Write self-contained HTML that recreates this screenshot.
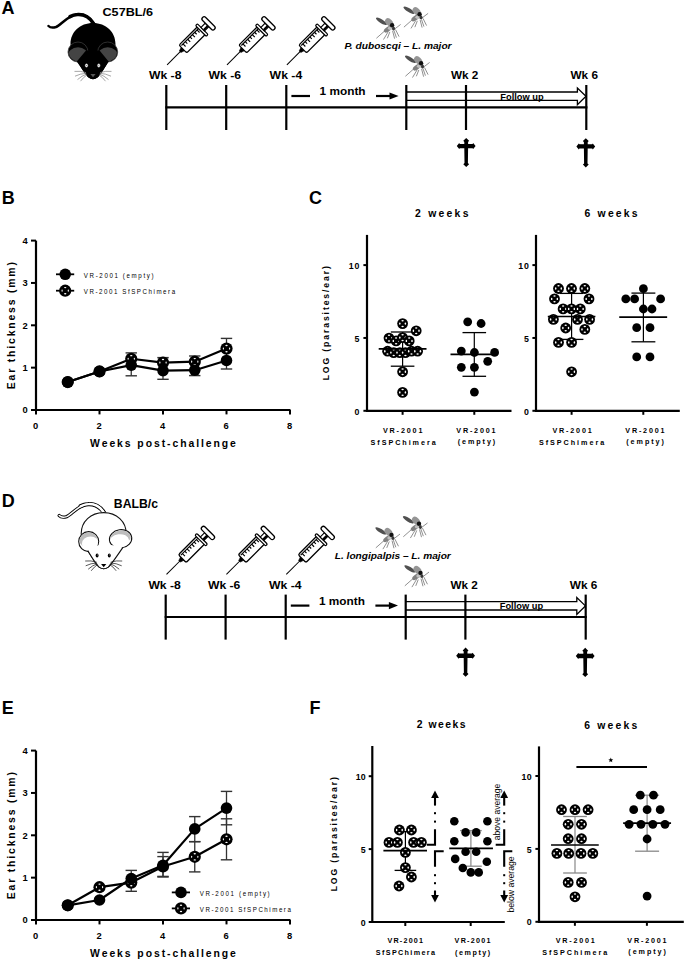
<!DOCTYPE html><html><head><meta charset="utf-8"><title>Figure</title><style>html,body{margin:0;padding:0;background:#fff;overflow:hidden}svg{display:block}text{font-family:"Liberation Sans",sans-serif}</style></head><body>
<svg width="685" height="961" viewBox="0 0 685 961">
<rect width="685" height="961" fill="#fff"/>
<defs><g id="syr" fill="#fff" stroke="#000">
<line x1="0" y1="0" x2="20" y2="0" stroke-width="1"/>
<path d="M18.5,-1.1 L22.6,-2.4 L22.6,2.4 L18.5,1.1 Z" fill="#000" stroke-width="0.6"/>
<rect x="22.3" y="-5.5" width="26.5" height="11" rx="1.8" stroke-width="1.3"/>
<line x1="23.8" y1="-3.5" x2="47.5" y2="-3.5" stroke-width="1.1"/>
<path d="M26,-3.5 L26,0.10000000000000009 M29.3,-3.5 L29.3,-0.7000000000000002 M32.6,-3.5 L32.6,0.10000000000000009 M35.9,-3.5 L35.9,-0.7000000000000002 M39.2,-3.5 L39.2,0.10000000000000009 M42.5,-3.5 L42.5,-0.7000000000000002 M45.8,-3.5 L45.8,0.10000000000000009 " stroke-width="1.15"/>
<rect x="47.8" y="-7.6" width="2.6" height="15.2" rx="1.2" stroke-width="1.2"/>
<rect x="50.4" y="-2.5" width="6" height="5" stroke-width="1.1"/>
<rect x="50.6" y="0.2" width="5.6" height="2.3" fill="#000" stroke="none"/>
<rect x="56.4" y="-8.4" width="4.4" height="16.8" rx="2.2" stroke-width="1.3"/>
</g><g id="mosq">
<g stroke="#555" stroke-width="0.65" fill="none" stroke-linecap="round">
<path d="M4.2,24.3 L12,17.4"/>
<path d="M11.2,25.5 L15.6,18.2"/>
<path d="M15,24.2 L17.2,18.6"/>
<path d="M22,24.6 L20.2,17.6"/>
<path d="M23.8,23.6 L21.6,17.2"/>
<path d="M26.4,22.6 L23.2,16.2"/>
<path d="M21.5,15.8 L27.8,11"/>
</g>
<ellipse cx="9" cy="7.6" rx="6.4" ry="1.9" transform="rotate(31 9 7.6)" fill="#505050"/>
<ellipse cx="16.6" cy="8.6" rx="4.6" ry="3.2" transform="rotate(45 16.6 8.6)" fill="#959595"/>
<ellipse cx="15.2" cy="15.6" rx="4.4" ry="2.3" transform="rotate(-35 15.2 15.6)" fill="#808080"/>
<ellipse cx="17.8" cy="14.6" rx="2.4" ry="1.8" fill="#c0c0c0"/>
<circle cx="19.6" cy="11.6" r="2.2" fill="#111"/>
<ellipse cx="21" cy="14.8" rx="1.5" ry="1.9" fill="#3a3a3a"/>
</g><path id="cross" d="M0,0 L2.9,2.9 L1.9,4 L1.9,6 L6.4,6 L7,5.2 L9.4,8.2 L7,11.2 L6.4,10.4 L1.9,10.4 L1.7,25.2 L2.9,26.4 L0,29.2 L-2.9,26.4 L-1.7,25.2 L-1.9,10.4 L-6.4,10.4 L-7,11.2 L-9.4,8.2 L-7,5.2 L-6.4,6 L-1.9,6 L-1.9,4 L-2.9,2.9 Z" fill="#000"/><g id="om"><circle r="5.4" fill="#000"/>
<g fill="#fff"><ellipse cx="0" cy="-2.8" rx="1.2" ry="0.75"/><ellipse cx="0" cy="2.8" rx="1.2" ry="0.75"/><ellipse cx="-2.8" cy="0" rx="0.75" ry="1.2"/><ellipse cx="2.8" cy="0" rx="0.75" ry="1.2"/></g></g><g id="omL"><circle r="6.1" fill="#000"/>
<g fill="#fff"><ellipse cx="0" cy="-3.1" rx="1.2" ry="0.7"/><ellipse cx="0" cy="3.1" rx="1.2" ry="0.7"/><ellipse cx="-3.1" cy="0" rx="0.6" ry="1.1"/><ellipse cx="3.1" cy="0" rx="0.6" ry="1.1"/></g></g></defs>
<text x="1.40" y="14.30" font-size="18" font-weight="bold" >A</text>
<text x="1.80" y="203.60" font-size="18" font-weight="bold" >B</text>
<text x="309.00" y="204.00" font-size="18" font-weight="bold" >C</text>
<text x="1.80" y="507.30" font-size="18" font-weight="bold" >D</text>
<text x="1.80" y="714.00" font-size="18" font-weight="bold" >E</text>
<text x="309.50" y="713.60" font-size="18" font-weight="bold" >F</text>
<g id="bmouse">
<path d="M48.5,26 Q51,28.6 56,27 C61,25 68,15 77.5,14.5 C85,14 89.5,17 93,22.5" fill="none" stroke="#000" stroke-width="2.5" stroke-linecap="round"/>
<path d="M70,16.6 C72.5,15.2 75,14.6 77.5,14.5 C85,14 89.5,17 93.5,23.5" fill="none" stroke="#000" stroke-width="3.5" stroke-linecap="round"/>
<path d="M93,23 C106,23 115.5,32 115.5,44 C115.5,52 111,58 107,64 C104,69 100.5,75 97.5,77.5 Q93,80.8 88.5,77.5 C85.5,75 82,69 79,64 C75,58 70.5,52 70.5,44 C70.5,32 80,23 93,23 Z" fill="#000"/>
<circle cx="78" cy="52" r="10" fill="#000" stroke="#3a3a3a" stroke-width="0.8"/>
<clipPath id="ec78"><circle cx="78" cy="52" r="9.3"/></clipPath>
<ellipse cx="78" cy="56.5" rx="10.5" ry="9.3" fill="#444" clip-path="url(#ec78)"/>
<circle cx="107.7" cy="52" r="10" fill="#000" stroke="#3a3a3a" stroke-width="0.8"/>
<clipPath id="ec107"><circle cx="107.7" cy="52" r="9.3"/></clipPath>
<ellipse cx="107.7" cy="56.5" rx="10.5" ry="9.3" fill="#444" clip-path="url(#ec107)"/>
<path d="M76.8,61.6 L86,50.4 L99.6,50.4 L108.6,61.4 C104,69 100.5,75 97.5,77.5 Q93,80.8 88.5,77.5 C85.5,75 82,69 76.8,61.6 Z" fill="#000"/>
<g stroke="#8a8a8a" stroke-width="0.75" fill="none"><path d="M86,72.6 Q80.25,70.7 74.5,71.4"/><path d="M100,72.6 Q105.75,70.7 111.5,71.4"/><path d="M86,73.4 Q80.5,73.50000000000001 75,76.2"/><path d="M100,73.4 Q105.5,73.50000000000001 111,76.2"/><path d="M86.5,74.2 Q82.0,75.60000000000001 77.5,79.6"/><path d="M99.5,74.2 Q104.0,75.60000000000001 108.5,79.6"/><path d="M87,75 Q83.75,76.8 80.5,81.2"/><path d="M99,75 Q102.25,76.8 105.5,81.2"/></g>
<ellipse cx="86.5" cy="65.5" rx="1.3" ry="1.75" fill="#fff" stroke="#aaa" stroke-width="0.45"/><circle cx="86.5" cy="65.6" r="0.5" fill="#666"/>
<ellipse cx="98.8" cy="65.5" rx="1.3" ry="1.75" fill="#fff" stroke="#aaa" stroke-width="0.45"/><circle cx="98.8" cy="65.6" r="0.5" fill="#666"/>
<path d="M90.4,74 L95.6,74 L93,77.2 Z" fill="#555"/>
</g>
<g transform="translate(10.7 489.6)">
<path d="M48.5,26 Q51,28.6 56,27 C61,25 68,15 77.5,14.5 C85,14 89.5,17 93,22.5" fill="none" stroke="#000" stroke-width="3.3" stroke-linecap="round"/>
<path d="M70,16.6 C72.5,15.2 75,14.6 77.5,14.5 C85,14 89.5,17 93.5,23.5" fill="none" stroke="#000" stroke-width="4.3" stroke-linecap="round"/>
<path d="M48.5,26 Q51,28.6 56,27 C61,25 68,15 77.5,14.5 C85,14 89.5,17 93,22.5" fill="none" stroke="#fff" stroke-width="1.5" stroke-linecap="round"/>
<path d="M70,16.6 C72.5,15.2 75,14.6 77.5,14.5 C85,14 89.5,17 93.5,23.5" fill="none" stroke="#fff" stroke-width="2.4" stroke-linecap="round"/>
<path d="M93,23 C106,23 115.5,32 115.5,44 C115.5,52 111,58 107,64 C104,69 100.5,75 97.5,77.5 Q93,80.8 88.5,77.5 C85.5,75 82,69 79,64 C75,58 70.5,52 70.5,44 C70.5,32 80,23 93,23 Z" fill="#fff" stroke="#111" stroke-width="1.1"/>
<circle cx="78" cy="52" r="10" fill="#fff" stroke="#111" stroke-width="1.1"/>
<clipPath id="wcL"><circle cx="78" cy="52" r="9.4"/></clipPath>
<ellipse cx="78" cy="50" rx="9.6" ry="8" fill="#bdbdbd" clip-path="url(#wcL)"/>
<ellipse cx="79.8" cy="54.2" rx="8.6" ry="7.4" fill="#fff" clip-path="url(#wcL)"/>
<g transform="rotate(-8 109.9 49.2)">
<ellipse cx="109.9" cy="49.2" rx="11.2" ry="9.1" fill="#fff" stroke="#111" stroke-width="1.1"/>
<clipPath id="wcR"><ellipse cx="109.9" cy="49.2" rx="10.6" ry="8.5"/></clipPath>
<ellipse cx="109.9" cy="47.2" rx="10.8" ry="7.4" fill="#bdbdbd" clip-path="url(#wcR)"/>
<ellipse cx="108.2" cy="51.4" rx="9.8" ry="7" fill="#fff" clip-path="url(#wcR)"/>
</g>
<path d="M77,61 Q84,55 93,55 Q102,55 112.2,57.8 C106,67 100.5,75 97.5,77.5 Q93,80.8 88.5,77.5 C85.5,75 82,69 77,61 Z" fill="#fff"/>
<path d="M77,61 C82,69 85.5,75 88.5,77.5 Q93,80.8 97.5,77.5 C100.5,75 106,67 112.2,57.8" fill="none" stroke="#111" stroke-width="1.1"/>
<g stroke="#222" stroke-width="0.75" fill="none"><path d="M86,72.6 Q80.25,70.7 74.5,71.4"/><path d="M100,72.6 Q105.75,70.7 111.5,71.4"/><path d="M86,73.4 Q80.5,73.50000000000001 75,76.2"/><path d="M100,73.4 Q105.5,73.50000000000001 111,76.2"/><path d="M86.5,74.2 Q82.0,75.60000000000001 77.5,79.6"/><path d="M99.5,74.2 Q104.0,75.60000000000001 108.5,79.6"/><path d="M87,75 Q83.75,76.8 80.5,81.2"/><path d="M99,75 Q102.25,76.8 105.5,81.2"/></g>
<ellipse cx="86.4" cy="65.9" rx="1.45" ry="2.0" fill="#000"/><ellipse cx="98.6" cy="65.9" rx="1.45" ry="2.0" fill="#000"/><circle cx="86.7" cy="65.3" r="0.45" fill="#fff"/><circle cx="98.9" cy="65.3" r="0.45" fill="#fff"/>
<path d="M90.4,74.5 L95.6,74.5 L93,77.6 Z" fill="#000"/>
</g>
<g transform="translate(0 0)">
<text x="102.50" y="16.40" font-size="11.6" font-weight="bold" textLength="50.50" lengthAdjust="spacingAndGlyphs" >C57BL/6</text>
<use href="#syr" transform="translate(167.1 64.8) rotate(-45)"/>
<use href="#syr" transform="translate(227.0 64.8) rotate(-45)"/>
<use href="#syr" transform="translate(286.9 64.8) rotate(-45)"/>
<use href="#mosq" transform="translate(372.5 13.7)"/>
<use href="#mosq" transform="translate(400 2.6)"/>
<use href="#mosq" transform="translate(401.5 51.7)"/>
<text x="344.40" y="49.40" font-size="9.8" font-weight="bold" font-style="italic" textLength="107.20" lengthAdjust="spacingAndGlyphs" >P. duboscqi – L. major</text>
<text x="149.00" y="79.30" font-size="11.2" font-weight="bold" textLength="32.40" lengthAdjust="spacingAndGlyphs" >Wk -8</text>
<text x="208.50" y="79.30" font-size="11.2" font-weight="bold" textLength="32.50" lengthAdjust="spacingAndGlyphs" >Wk -6</text>
<text x="269.60" y="79.30" font-size="11.2" font-weight="bold" textLength="32.60" lengthAdjust="spacingAndGlyphs" >Wk -4</text>
<text x="451.00" y="79.30" font-size="11.2" font-weight="bold" textLength="27.40" lengthAdjust="spacingAndGlyphs" >Wk 2</text>
<text x="570.40" y="79.30" font-size="11.2" font-weight="bold" textLength="27.60" lengthAdjust="spacingAndGlyphs" >Wk 6</text>
<path d="M406,92 L577.4,92 L577.4,88 L586,96.3 L577.4,104.8 L577.4,100.4 L406,100.4" fill="#fff" stroke="#000" stroke-width="1.3"/>
<text x="500.30" y="99.50" font-size="9.0" font-weight="bold" textLength="43.40" lengthAdjust="spacingAndGlyphs" >Follow up</text>
<line x1="165.30" y1="107.40" x2="587.40" y2="107.40" stroke="#000" stroke-width="2.2" />
<line x1="166.30" y1="85.00" x2="166.30" y2="130.00" stroke="#000" stroke-width="2.2" />
<line x1="226.20" y1="85.00" x2="226.20" y2="130.00" stroke="#000" stroke-width="2.2" />
<line x1="286.30" y1="85.00" x2="286.30" y2="130.00" stroke="#000" stroke-width="2.2" />
<line x1="406.30" y1="85.00" x2="406.30" y2="130.00" stroke="#000" stroke-width="2.2" />
<line x1="466.00" y1="85.00" x2="466.00" y2="130.00" stroke="#000" stroke-width="2.2" />
<line x1="586.30" y1="85.00" x2="586.30" y2="130.00" stroke="#000" stroke-width="2.2" />
<line x1="291.40" y1="96.00" x2="310.00" y2="96.00" stroke="#000" stroke-width="2.2" />
<text x="319.60" y="95.00" font-size="11.2" font-weight="bold" textLength="46.00" lengthAdjust="spacingAndGlyphs" >1 month</text>
<line x1="376.00" y1="96.00" x2="391.00" y2="96.00" stroke="#000" stroke-width="2.2" />
<path d="M389.5,92.4 L398.6,96 L389.5,99.6 Z" fill="#000"/>
<use href="#cross" transform="translate(466.2 137.9)"/>
<use href="#cross" transform="translate(585.8 138.2)"/>
</g>
<g transform="translate(-0.6 509.6)">
<text x="114.40" y="-1.70" font-size="12.6" font-weight="bold" textLength="44.20" lengthAdjust="spacingAndGlyphs" >BALB/c</text>
<use href="#syr" transform="translate(167.1 64.8) rotate(-45)"/>
<use href="#syr" transform="translate(227.0 64.8) rotate(-45)"/>
<use href="#syr" transform="translate(286.9 64.8) rotate(-45)"/>
<use href="#mosq" transform="translate(372.5 13.7)"/>
<use href="#mosq" transform="translate(400 2.6)"/>
<use href="#mosq" transform="translate(401.5 51.7)"/>
<text x="335.40" y="49.40" font-size="9.8" font-weight="bold" font-style="italic" textLength="116.00" lengthAdjust="spacingAndGlyphs" >L. longipalpis – L. major</text>
<text x="149.00" y="79.30" font-size="11.2" font-weight="bold" textLength="32.40" lengthAdjust="spacingAndGlyphs" >Wk -8</text>
<text x="208.50" y="79.30" font-size="11.2" font-weight="bold" textLength="32.50" lengthAdjust="spacingAndGlyphs" >Wk -6</text>
<text x="269.60" y="79.30" font-size="11.2" font-weight="bold" textLength="32.60" lengthAdjust="spacingAndGlyphs" >Wk -4</text>
<text x="451.00" y="79.30" font-size="11.2" font-weight="bold" textLength="27.40" lengthAdjust="spacingAndGlyphs" >Wk 2</text>
<text x="570.40" y="79.30" font-size="11.2" font-weight="bold" textLength="27.60" lengthAdjust="spacingAndGlyphs" >Wk 6</text>
<path d="M406,92 L577.4,92 L577.4,88 L586,96.3 L577.4,104.8 L577.4,100.4 L406,100.4" fill="#fff" stroke="#000" stroke-width="1.3"/>
<text x="500.30" y="99.50" font-size="9.0" font-weight="bold" textLength="43.40" lengthAdjust="spacingAndGlyphs" >Follow up</text>
<line x1="165.30" y1="107.40" x2="587.40" y2="107.40" stroke="#000" stroke-width="2.2" />
<line x1="166.30" y1="85.00" x2="166.30" y2="130.00" stroke="#000" stroke-width="2.2" />
<line x1="226.20" y1="85.00" x2="226.20" y2="130.00" stroke="#000" stroke-width="2.2" />
<line x1="286.30" y1="85.00" x2="286.30" y2="130.00" stroke="#000" stroke-width="2.2" />
<line x1="406.30" y1="85.00" x2="406.30" y2="130.00" stroke="#000" stroke-width="2.2" />
<line x1="466.00" y1="85.00" x2="466.00" y2="130.00" stroke="#000" stroke-width="2.2" />
<line x1="586.30" y1="85.00" x2="586.30" y2="130.00" stroke="#000" stroke-width="2.2" />
<line x1="291.40" y1="96.00" x2="310.00" y2="96.00" stroke="#000" stroke-width="2.2" />
<text x="319.60" y="95.00" font-size="11.2" font-weight="bold" textLength="46.00" lengthAdjust="spacingAndGlyphs" >1 month</text>
<line x1="376.00" y1="96.00" x2="391.00" y2="96.00" stroke="#000" stroke-width="2.2" />
<path d="M389.5,92.4 L398.6,96 L389.5,99.6 Z" fill="#000"/>
<use href="#cross" transform="translate(466.2 137.9)"/>
<use href="#cross" transform="translate(585.8 138.2)"/>
</g>
<line x1="36.00" y1="240.60" x2="36.00" y2="411.00" stroke="#000" stroke-width="2.2" />
<line x1="35.00" y1="410.00" x2="290.50" y2="410.00" stroke="#000" stroke-width="2.2" />
<line x1="31.00" y1="410.00" x2="36.00" y2="410.00" stroke="#000" stroke-width="2" />
<text x="27.80" y="413.40" font-size="9.4" font-weight="bold" text-anchor="end" >0</text>
<line x1="31.00" y1="367.65" x2="36.00" y2="367.65" stroke="#000" stroke-width="2" />
<text x="27.80" y="371.05" font-size="9.4" font-weight="bold" text-anchor="end" >1</text>
<line x1="31.00" y1="325.30" x2="36.00" y2="325.30" stroke="#000" stroke-width="2" />
<text x="27.80" y="328.70" font-size="9.4" font-weight="bold" text-anchor="end" >2</text>
<line x1="31.00" y1="282.95" x2="36.00" y2="282.95" stroke="#000" stroke-width="2" />
<text x="27.80" y="286.35" font-size="9.4" font-weight="bold" text-anchor="end" >3</text>
<line x1="31.00" y1="240.60" x2="36.00" y2="240.60" stroke="#000" stroke-width="2" />
<text x="27.80" y="244.00" font-size="9.4" font-weight="bold" text-anchor="end" >4</text>
<line x1="36.00" y1="410.00" x2="36.00" y2="414.40" stroke="#000" stroke-width="2" />
<text x="35.60" y="429.20" font-size="9.4" font-weight="bold" text-anchor="middle" >0</text>
<line x1="99.50" y1="410.00" x2="99.50" y2="414.40" stroke="#000" stroke-width="2" />
<text x="99.10" y="429.20" font-size="9.4" font-weight="bold" text-anchor="middle" >2</text>
<line x1="163.00" y1="410.00" x2="163.00" y2="414.40" stroke="#000" stroke-width="2" />
<text x="162.60" y="429.20" font-size="9.4" font-weight="bold" text-anchor="middle" >4</text>
<line x1="226.50" y1="410.00" x2="226.50" y2="414.40" stroke="#000" stroke-width="2" />
<text x="226.10" y="429.20" font-size="9.4" font-weight="bold" text-anchor="middle" >6</text>
<line x1="290.00" y1="410.00" x2="290.00" y2="414.40" stroke="#000" stroke-width="2" />
<text x="289.60" y="429.20" font-size="9.4" font-weight="bold" text-anchor="middle" >8</text>
<text x="90.12" y="447.40" font-size="10.4" font-weight="bold" textLength="145.78" lengthAdjust="spacing" >Weeks post-challenge</text>
<text x="15.00" y="389.14" font-size="10.4" font-weight="bold" textLength="127.04" lengthAdjust="spacing" transform="rotate(-90 15.00 389.14)" >Ear thickness (mm)</text>
<line x1="131.25" y1="352.90" x2="131.25" y2="375.80" stroke="#333" stroke-width="1.3" />
<line x1="125.55" y1="352.90" x2="136.95" y2="352.90" stroke="#333" stroke-width="1.4" />
<line x1="125.55" y1="375.80" x2="136.95" y2="375.80" stroke="#333" stroke-width="1.4" />
<line x1="163.00" y1="357.60" x2="163.00" y2="379.30" stroke="#333" stroke-width="1.3" />
<line x1="157.30" y1="357.60" x2="168.70" y2="357.60" stroke="#333" stroke-width="1.4" />
<line x1="157.30" y1="379.30" x2="168.70" y2="379.30" stroke="#333" stroke-width="1.4" />
<line x1="194.75" y1="356.00" x2="194.75" y2="375.60" stroke="#333" stroke-width="1.3" />
<line x1="189.05" y1="356.00" x2="200.45" y2="356.00" stroke="#333" stroke-width="1.4" />
<line x1="189.05" y1="375.60" x2="200.45" y2="375.60" stroke="#333" stroke-width="1.4" />
<line x1="226.50" y1="338.40" x2="226.50" y2="369.00" stroke="#333" stroke-width="1.3" />
<line x1="220.80" y1="338.40" x2="232.20" y2="338.40" stroke="#333" stroke-width="1.4" />
<line x1="220.80" y1="369.00" x2="232.20" y2="369.00" stroke="#333" stroke-width="1.4" />
<polyline points="67.75,382.05 99.50,371.46 131.25,365.11 163.00,370.61 194.75,370.19 226.50,360.45" fill="none" stroke="#000" stroke-width="2.2" stroke-linejoin="round"/>
<polyline points="67.75,382.05 99.50,371.46 131.25,358.76 163.00,362.57 194.75,361.72 226.50,348.59" fill="none" stroke="#000" stroke-width="2.2" stroke-linejoin="round"/>
<use href="#omL" x="67.75" y="382.05"/>
<use href="#omL" x="99.50" y="371.46"/>
<use href="#omL" x="131.25" y="358.76"/>
<use href="#omL" x="163.00" y="362.57"/>
<use href="#omL" x="194.75" y="361.72"/>
<use href="#omL" x="226.50" y="348.59"/>
<circle cx="67.75" cy="382.05" r="5.8" fill="#000"/>
<circle cx="99.50" cy="371.46" r="5.8" fill="#000"/>
<circle cx="131.25" cy="365.11" r="5.8" fill="#000"/>
<circle cx="163.00" cy="370.61" r="5.8" fill="#000"/>
<circle cx="194.75" cy="370.19" r="5.8" fill="#000"/>
<circle cx="226.50" cy="360.45" r="5.8" fill="#000"/>
<line x1="56.00" y1="274.30" x2="74.20" y2="274.30" stroke="#000" stroke-width="1.8" />
<circle cx="65.2" cy="274.3" r="5.8" fill="#000"/>
<line x1="56.00" y1="290.70" x2="74.20" y2="290.70" stroke="#000" stroke-width="1.8" />
<use href="#omL" x="65.2" y="290.7"/>
<g transform="translate(83.86 278.10) scale(0.86 1)"><text x="0" y="0" font-size="7.2" textLength="80.95" lengthAdjust="spacing" >VR-2001 (empty)</text></g>
<g transform="translate(83.86 293.90) scale(0.86 1)"><text x="0" y="0" font-size="7.2" textLength="106.07" lengthAdjust="spacing" >VR-2001 SfSPChimera</text></g>
<line x1="36.00" y1="750.60" x2="36.00" y2="921.00" stroke="#000" stroke-width="2.2" />
<line x1="35.00" y1="920.00" x2="290.50" y2="920.00" stroke="#000" stroke-width="2.2" />
<line x1="31.00" y1="920.00" x2="36.00" y2="920.00" stroke="#000" stroke-width="2" />
<text x="27.80" y="923.40" font-size="9.4" font-weight="bold" text-anchor="end" >0</text>
<line x1="31.00" y1="877.65" x2="36.00" y2="877.65" stroke="#000" stroke-width="2" />
<text x="27.80" y="881.05" font-size="9.4" font-weight="bold" text-anchor="end" >1</text>
<line x1="31.00" y1="835.30" x2="36.00" y2="835.30" stroke="#000" stroke-width="2" />
<text x="27.80" y="838.70" font-size="9.4" font-weight="bold" text-anchor="end" >2</text>
<line x1="31.00" y1="792.95" x2="36.00" y2="792.95" stroke="#000" stroke-width="2" />
<text x="27.80" y="796.35" font-size="9.4" font-weight="bold" text-anchor="end" >3</text>
<line x1="31.00" y1="750.60" x2="36.00" y2="750.60" stroke="#000" stroke-width="2" />
<text x="27.80" y="754.00" font-size="9.4" font-weight="bold" text-anchor="end" >4</text>
<line x1="36.00" y1="920.00" x2="36.00" y2="924.40" stroke="#000" stroke-width="2" />
<text x="35.60" y="939.20" font-size="9.4" font-weight="bold" text-anchor="middle" >0</text>
<line x1="99.50" y1="920.00" x2="99.50" y2="924.40" stroke="#000" stroke-width="2" />
<text x="99.10" y="939.20" font-size="9.4" font-weight="bold" text-anchor="middle" >2</text>
<line x1="163.00" y1="920.00" x2="163.00" y2="924.40" stroke="#000" stroke-width="2" />
<text x="162.60" y="939.20" font-size="9.4" font-weight="bold" text-anchor="middle" >4</text>
<line x1="226.50" y1="920.00" x2="226.50" y2="924.40" stroke="#000" stroke-width="2" />
<text x="226.10" y="939.20" font-size="9.4" font-weight="bold" text-anchor="middle" >6</text>
<line x1="290.00" y1="920.00" x2="290.00" y2="924.40" stroke="#000" stroke-width="2" />
<text x="289.60" y="939.20" font-size="9.4" font-weight="bold" text-anchor="middle" >8</text>
<text x="90.12" y="957.40" font-size="10.4" font-weight="bold" textLength="145.78" lengthAdjust="spacing" >Weeks post-challenge</text>
<text x="15.00" y="899.14" font-size="10.4" font-weight="bold" textLength="127.04" lengthAdjust="spacing" transform="rotate(-90 15.00 899.14)" >Ear thickness (mm)</text>
<line x1="67.75" y1="1415.00" x2="67.75" y2="1415.00" stroke="#333" stroke-width="1.3" />
<line x1="62.05" y1="1415.00" x2="73.45" y2="1415.00" stroke="#333" stroke-width="1.4" />
<line x1="62.05" y1="1415.00" x2="73.45" y2="1415.00" stroke="#333" stroke-width="1.4" />
<line x1="131.25" y1="870.40" x2="131.25" y2="891.30" stroke="#333" stroke-width="1.3" />
<line x1="125.55" y1="870.40" x2="136.95" y2="870.40" stroke="#333" stroke-width="1.4" />
<line x1="125.55" y1="891.30" x2="136.95" y2="891.30" stroke="#333" stroke-width="1.4" />
<line x1="163.00" y1="852.40" x2="163.00" y2="877.00" stroke="#333" stroke-width="1.3" />
<line x1="157.30" y1="852.40" x2="168.70" y2="852.40" stroke="#333" stroke-width="1.4" />
<line x1="157.30" y1="877.00" x2="168.70" y2="877.00" stroke="#333" stroke-width="1.4" />
<line x1="163.00" y1="856.60" x2="163.00" y2="876.40" stroke="#333" stroke-width="1.3" />
<line x1="157.30" y1="856.60" x2="168.70" y2="856.60" stroke="#333" stroke-width="1.4" />
<line x1="157.30" y1="876.40" x2="168.70" y2="876.40" stroke="#333" stroke-width="1.4" />
<line x1="194.75" y1="816.60" x2="194.75" y2="841.60" stroke="#333" stroke-width="1.3" />
<line x1="189.05" y1="816.60" x2="200.45" y2="816.60" stroke="#333" stroke-width="1.4" />
<line x1="189.05" y1="841.60" x2="200.45" y2="841.60" stroke="#333" stroke-width="1.4" />
<line x1="194.75" y1="841.70" x2="194.75" y2="871.90" stroke="#333" stroke-width="1.3" />
<line x1="189.05" y1="841.70" x2="200.45" y2="841.70" stroke="#333" stroke-width="1.4" />
<line x1="189.05" y1="871.90" x2="200.45" y2="871.90" stroke="#333" stroke-width="1.4" />
<line x1="226.50" y1="791.40" x2="226.50" y2="824.80" stroke="#333" stroke-width="1.3" />
<line x1="220.80" y1="791.40" x2="232.20" y2="791.40" stroke="#333" stroke-width="1.4" />
<line x1="220.80" y1="824.80" x2="232.20" y2="824.80" stroke="#333" stroke-width="1.4" />
<line x1="226.50" y1="818.80" x2="226.50" y2="859.80" stroke="#333" stroke-width="1.3" />
<line x1="220.80" y1="818.80" x2="232.20" y2="818.80" stroke="#333" stroke-width="1.4" />
<line x1="220.80" y1="859.80" x2="232.20" y2="859.80" stroke="#333" stroke-width="1.4" />
<polyline points="67.75,905.30 99.50,900.00 131.25,878.50 163.00,865.30 194.75,828.90 226.50,808.10" fill="none" stroke="#000" stroke-width="2.2" stroke-linejoin="round"/>
<polyline points="67.75,905.30 99.50,887.20 131.25,882.60 163.00,866.50 194.75,856.80 226.50,839.30" fill="none" stroke="#000" stroke-width="2.2" stroke-linejoin="round"/>
<use href="#omL" x="67.75" y="905.30"/>
<use href="#omL" x="99.50" y="887.20"/>
<use href="#omL" x="131.25" y="882.60"/>
<use href="#omL" x="163.00" y="866.50"/>
<use href="#omL" x="194.75" y="856.80"/>
<use href="#omL" x="226.50" y="839.30"/>
<circle cx="67.75" cy="905.30" r="5.8" fill="#000"/>
<circle cx="99.50" cy="900.00" r="5.8" fill="#000"/>
<circle cx="131.25" cy="878.50" r="5.8" fill="#000"/>
<circle cx="163.00" cy="865.30" r="5.8" fill="#000"/>
<circle cx="194.75" cy="828.90" r="5.8" fill="#000"/>
<circle cx="226.50" cy="808.10" r="5.8" fill="#000"/>
<line x1="171.80" y1="892.40" x2="190.00" y2="892.40" stroke="#000" stroke-width="1.8" />
<circle cx="181" cy="892.4" r="5.8" fill="#000"/>
<line x1="171.80" y1="908.40" x2="190.00" y2="908.40" stroke="#000" stroke-width="1.8" />
<use href="#omL" x="181" y="908.4"/>
<g transform="translate(199.86 896.20) scale(0.86 1)"><text x="0" y="0" font-size="7.2" textLength="81.16" lengthAdjust="spacing" >VR-2001 (empty)</text></g>
<g transform="translate(199.86 911.60) scale(0.86 1)"><text x="0" y="0" font-size="7.2" textLength="105.86" lengthAdjust="spacing" >VR-2001 SfSPChimera</text></g>
<line x1="367.00" y1="234.90" x2="367.00" y2="411.80" stroke="#000" stroke-width="2.2" />
<line x1="366.00" y1="410.80" x2="511.50" y2="410.80" stroke="#000" stroke-width="2.2" />
<line x1="363.40" y1="410.80" x2="367.00" y2="410.80" stroke="#000" stroke-width="2" />
<text x="359.40" y="414.60" font-size="8.8" font-weight="bold" text-anchor="end" >0</text>
<line x1="363.40" y1="337.95" x2="367.00" y2="337.95" stroke="#000" stroke-width="2" />
<text x="359.40" y="341.75" font-size="8.8" font-weight="bold" text-anchor="end" >5</text>
<line x1="363.40" y1="265.10" x2="367.00" y2="265.10" stroke="#000" stroke-width="2" />
<text x="359.40" y="268.90" font-size="8.8" font-weight="bold" text-anchor="end" textLength="10.60" lengthAdjust="spacing" >10</text>
<line x1="402.60" y1="410.80" x2="402.60" y2="414.80" stroke="#000" stroke-width="2" />
<line x1="474.30" y1="410.80" x2="474.30" y2="414.80" stroke="#000" stroke-width="2" />
<line x1="536.00" y1="234.90" x2="536.00" y2="411.80" stroke="#000" stroke-width="2.2" />
<line x1="535.00" y1="410.80" x2="679.80" y2="410.80" stroke="#000" stroke-width="2.2" />
<line x1="532.40" y1="410.80" x2="536.00" y2="410.80" stroke="#000" stroke-width="2" />
<text x="528.80" y="414.60" font-size="8.8" font-weight="bold" text-anchor="end" >0</text>
<line x1="532.40" y1="337.95" x2="536.00" y2="337.95" stroke="#000" stroke-width="2" />
<text x="528.80" y="341.75" font-size="8.8" font-weight="bold" text-anchor="end" >5</text>
<line x1="532.40" y1="265.10" x2="536.00" y2="265.10" stroke="#000" stroke-width="2" />
<text x="528.80" y="268.90" font-size="8.8" font-weight="bold" text-anchor="end" textLength="10.60" lengthAdjust="spacing" >10</text>
<line x1="571.60" y1="410.80" x2="571.60" y2="414.80" stroke="#000" stroke-width="2" />
<line x1="643.30" y1="410.80" x2="643.30" y2="414.80" stroke="#000" stroke-width="2" />
<text x="415.02" y="216.70" font-size="10.4" font-weight="bold" textLength="53.40" lengthAdjust="spacing" >2 weeks</text>
<text x="584.56" y="217.00" font-size="10.4" font-weight="bold" textLength="53.04" lengthAdjust="spacing" >6 weeks</text>
<text x="329.00" y="380.30" font-size="8.6" font-weight="bold" textLength="114.18" lengthAdjust="spacing" transform="rotate(-90 329.00 380.30)" >LOG (parasites/ear)</text>
<text x="402.68" y="432.60" font-size="7.2" font-weight="bold" text-anchor="middle" textLength="39.52" lengthAdjust="spacing" >VR-2001</text>
<text x="403.13" y="444.60" font-size="7.2" font-weight="bold" text-anchor="middle" textLength="65.06" lengthAdjust="spacing" >SfSPChimera</text>
<text x="475.92" y="432.60" font-size="7.2" font-weight="bold" text-anchor="middle" textLength="39.28" lengthAdjust="spacing" >VR-2001</text>
<text x="476.46" y="444.00" font-size="7.2" font-weight="bold" text-anchor="middle" textLength="37.52" lengthAdjust="spacing" >(empty)</text>
<text x="572.11" y="432.60" font-size="7.2" font-weight="bold" text-anchor="middle" textLength="39.20" lengthAdjust="spacing" >VR-2001</text>
<text x="571.57" y="444.60" font-size="7.2" font-weight="bold" text-anchor="middle" textLength="65.26" lengthAdjust="spacing" >SfSPChimera</text>
<text x="644.90" y="432.60" font-size="7.2" font-weight="bold" text-anchor="middle" textLength="39.16" lengthAdjust="spacing" >VR-2001</text>
<text x="645.08" y="444.00" font-size="7.2" font-weight="bold" text-anchor="middle" textLength="37.72" lengthAdjust="spacing" >(empty)</text>
<line x1="402.60" y1="332.00" x2="402.60" y2="366.20" stroke="#000" stroke-width="1.2" />
<line x1="390.80" y1="332.00" x2="414.40" y2="332.00" stroke="#000" stroke-width="1.3" />
<line x1="390.80" y1="366.20" x2="414.40" y2="366.20" stroke="#000" stroke-width="1.3" />
<use href="#om" x="402.60" y="323.60"/>
<use href="#om" x="416.20" y="330.80"/>
<use href="#om" x="389.00" y="338.10"/>
<use href="#om" x="396.10" y="340.90"/>
<use href="#om" x="402.60" y="337.60"/>
<use href="#om" x="409.20" y="340.90"/>
<use href="#om" x="387.60" y="351.20"/>
<use href="#om" x="393.70" y="352.60"/>
<use href="#om" x="399.80" y="352.60"/>
<use href="#om" x="405.40" y="352.60"/>
<use href="#om" x="411.50" y="351.20"/>
<use href="#om" x="417.60" y="351.20"/>
<use href="#om" x="402.60" y="371.80"/>
<use href="#om" x="402.60" y="392.40"/>
<line x1="378.70" y1="348.90" x2="426.50" y2="348.90" stroke="#000" stroke-width="1.7" />
<line x1="474.30" y1="332.60" x2="474.30" y2="376.30" stroke="#000" stroke-width="1.2" />
<line x1="462.50" y1="332.60" x2="486.10" y2="332.60" stroke="#000" stroke-width="1.3" />
<line x1="462.50" y1="376.30" x2="486.10" y2="376.30" stroke="#000" stroke-width="1.3" />
<circle cx="467.70" cy="321.80" r="4.4" fill="#000"/>
<circle cx="481.10" cy="323.50" r="4.4" fill="#000"/>
<circle cx="461.30" cy="351.10" r="4.4" fill="#000"/>
<circle cx="474.40" cy="352.50" r="4.4" fill="#000"/>
<circle cx="494.60" cy="352.40" r="4.4" fill="#000"/>
<circle cx="487.70" cy="361.30" r="4.4" fill="#000"/>
<circle cx="461.30" cy="367.30" r="4.4" fill="#000"/>
<circle cx="474.40" cy="367.30" r="4.4" fill="#000"/>
<circle cx="474.40" cy="392.10" r="4.4" fill="#000"/>
<line x1="450.50" y1="354.40" x2="498.10" y2="354.40" stroke="#000" stroke-width="1.7" />
<line x1="571.60" y1="293.40" x2="571.60" y2="339.40" stroke="#000" stroke-width="1.2" />
<line x1="559.80" y1="293.40" x2="583.40" y2="293.40" stroke="#000" stroke-width="1.3" />
<line x1="559.80" y1="339.40" x2="583.40" y2="339.40" stroke="#000" stroke-width="1.3" />
<use href="#om" x="558.50" y="288.50"/>
<use href="#om" x="571.50" y="288.50"/>
<use href="#om" x="584.80" y="288.50"/>
<use href="#om" x="554.50" y="298.90"/>
<use href="#om" x="589.00" y="298.90"/>
<use href="#om" x="563.10" y="308.90"/>
<use href="#om" x="571.50" y="308.90"/>
<use href="#om" x="580.30" y="308.90"/>
<use href="#om" x="553.40" y="319.40"/>
<use href="#om" x="577.50" y="319.40"/>
<use href="#om" x="589.60" y="319.40"/>
<use href="#om" x="565.70" y="328.00"/>
<use href="#om" x="584.80" y="329.40"/>
<use href="#om" x="558.50" y="342.40"/>
<use href="#om" x="571.60" y="342.40"/>
<use href="#om" x="571.60" y="371.80"/>
<line x1="547.80" y1="316.50" x2="595.40" y2="316.50" stroke="#000" stroke-width="1.7" />
<line x1="643.40" y1="293.10" x2="643.40" y2="341.80" stroke="#000" stroke-width="1.2" />
<line x1="631.45" y1="293.10" x2="655.35" y2="293.10" stroke="#000" stroke-width="1.3" />
<line x1="631.45" y1="341.80" x2="655.35" y2="341.80" stroke="#000" stroke-width="1.3" />
<circle cx="643.40" cy="288.70" r="4.4" fill="#000"/>
<circle cx="625.80" cy="298.90" r="4.4" fill="#000"/>
<circle cx="634.60" cy="298.90" r="4.4" fill="#000"/>
<circle cx="660.60" cy="298.90" r="4.4" fill="#000"/>
<circle cx="643.40" cy="309.00" r="4.4" fill="#000"/>
<circle cx="652.00" cy="309.00" r="4.4" fill="#000"/>
<circle cx="636.70" cy="327.70" r="4.4" fill="#000"/>
<circle cx="650.00" cy="327.70" r="4.4" fill="#000"/>
<circle cx="636.70" cy="356.90" r="4.4" fill="#000"/>
<circle cx="650.00" cy="356.90" r="4.4" fill="#000"/>
<line x1="619.25" y1="317.10" x2="667.15" y2="317.10" stroke="#000" stroke-width="1.7" />
<line x1="372.30" y1="746.00" x2="372.30" y2="923.00" stroke="#000" stroke-width="2.2" />
<line x1="371.30" y1="922.00" x2="504.80" y2="922.00" stroke="#000" stroke-width="2.2" />
<line x1="368.70" y1="922.00" x2="372.30" y2="922.00" stroke="#000" stroke-width="2" />
<text x="365.60" y="925.60" font-size="8.8" font-weight="bold" text-anchor="end" >0</text>
<line x1="368.70" y1="849.10" x2="372.30" y2="849.10" stroke="#000" stroke-width="2" />
<text x="365.60" y="852.70" font-size="8.8" font-weight="bold" text-anchor="end" >5</text>
<line x1="368.70" y1="776.20" x2="372.30" y2="776.20" stroke="#000" stroke-width="2" />
<text x="365.60" y="779.80" font-size="8.8" font-weight="bold" text-anchor="end" textLength="9.80" lengthAdjust="spacing" >10</text>
<line x1="405.30" y1="922.00" x2="405.30" y2="926.00" stroke="#000" stroke-width="2" />
<line x1="470.70" y1="922.00" x2="470.70" y2="926.00" stroke="#000" stroke-width="2" />
<line x1="539.00" y1="746.40" x2="539.00" y2="922.80" stroke="#000" stroke-width="2.2" />
<line x1="538.00" y1="921.80" x2="683.80" y2="921.80" stroke="#000" stroke-width="2.2" />
<line x1="535.40" y1="921.80" x2="539.00" y2="921.80" stroke="#000" stroke-width="2" />
<text x="531.60" y="925.40" font-size="8.8" font-weight="bold" text-anchor="end" >0</text>
<line x1="535.40" y1="848.90" x2="539.00" y2="848.90" stroke="#000" stroke-width="2" />
<text x="531.60" y="852.50" font-size="8.8" font-weight="bold" text-anchor="end" >5</text>
<line x1="535.40" y1="776.00" x2="539.00" y2="776.00" stroke="#000" stroke-width="2" />
<text x="531.60" y="779.60" font-size="8.8" font-weight="bold" text-anchor="end" textLength="10.20" lengthAdjust="spacing" >10</text>
<line x1="574.90" y1="921.80" x2="574.90" y2="925.80" stroke="#000" stroke-width="2" />
<line x1="646.90" y1="921.80" x2="646.90" y2="925.80" stroke="#000" stroke-width="2" />
<text x="416.78" y="727.90" font-size="10.4" font-weight="bold" textLength="48.86" lengthAdjust="spacing" >2 weeks</text>
<text x="584.16" y="728.70" font-size="10.4" font-weight="bold" textLength="53.06" lengthAdjust="spacing" >6 weeks</text>
<text x="337.20" y="891.34" font-size="8.6" font-weight="bold" textLength="114.18" lengthAdjust="spacing" transform="rotate(-90 337.20 891.34)" >LOG (parasites/ear)</text>
<text x="405.23" y="943.40" font-size="7.2" font-weight="bold" text-anchor="middle" textLength="35.58" lengthAdjust="spacing" >VR-2001</text>
<text x="405.41" y="955.00" font-size="7.2" font-weight="bold" text-anchor="middle" textLength="59.10" lengthAdjust="spacing" >SfSPChimera</text>
<text x="472.58" y="943.40" font-size="7.2" font-weight="bold" text-anchor="middle" textLength="35.92" lengthAdjust="spacing" >VR-2001</text>
<text x="472.67" y="954.50" font-size="7.2" font-weight="bold" text-anchor="middle" textLength="35.14" lengthAdjust="spacing" >(empty)</text>
<text x="575.22" y="943.20" font-size="7.2" font-weight="bold" text-anchor="middle" textLength="39.02" lengthAdjust="spacing" >VR-2001</text>
<text x="574.68" y="954.80" font-size="7.2" font-weight="bold" text-anchor="middle" textLength="64.94" lengthAdjust="spacing" >SfSPChimera</text>
<text x="646.95" y="943.20" font-size="7.2" font-weight="bold" text-anchor="middle" textLength="39.16" lengthAdjust="spacing" >VR-2001</text>
<text x="647.13" y="954.30" font-size="7.2" font-weight="bold" text-anchor="middle" textLength="37.54" lengthAdjust="spacing" >(empty)</text>
<line x1="405.40" y1="831.60" x2="405.40" y2="870.40" stroke="#000" stroke-width="1.2" />
<line x1="394.60" y1="831.60" x2="416.20" y2="831.60" stroke="#000" stroke-width="1.3" />
<line x1="394.60" y1="870.40" x2="416.20" y2="870.40" stroke="#000" stroke-width="1.3" />
<use href="#om" x="399.40" y="830.00"/>
<use href="#om" x="411.40" y="830.00"/>
<use href="#om" x="389.00" y="842.40"/>
<use href="#om" x="397.40" y="842.40"/>
<use href="#om" x="413.60" y="842.40"/>
<use href="#om" x="421.40" y="842.40"/>
<use href="#om" x="405.40" y="852.40"/>
<use href="#om" x="405.40" y="867.60"/>
<use href="#om" x="411.40" y="877.00"/>
<use href="#om" x="399.00" y="886.00"/>
<line x1="383.40" y1="850.60" x2="427.00" y2="850.60" stroke="#000" stroke-width="1.7" />
<line x1="470.90" y1="830.60" x2="470.90" y2="866.20" stroke="#888" stroke-width="1.2" />
<line x1="460.05" y1="830.60" x2="481.75" y2="830.60" stroke="#888" stroke-width="1.3" />
<line x1="460.05" y1="866.20" x2="481.75" y2="866.20" stroke="#888" stroke-width="1.3" />
<circle cx="454.30" cy="821.20" r="4.3" fill="#000"/>
<circle cx="487.40" cy="821.20" r="4.3" fill="#000"/>
<circle cx="465.60" cy="832.40" r="4.3" fill="#000"/>
<circle cx="476.20" cy="832.40" r="4.3" fill="#000"/>
<circle cx="454.30" cy="841.20" r="4.3" fill="#000"/>
<circle cx="487.40" cy="841.20" r="4.3" fill="#000"/>
<circle cx="465.60" cy="851.80" r="4.3" fill="#000"/>
<circle cx="476.20" cy="851.80" r="4.3" fill="#000"/>
<circle cx="455.20" cy="858.90" r="4.3" fill="#000"/>
<circle cx="486.80" cy="861.80" r="4.3" fill="#000"/>
<circle cx="462.80" cy="868.00" r="4.3" fill="#000"/>
<circle cx="470.80" cy="872.40" r="4.3" fill="#000"/>
<circle cx="478.70" cy="872.40" r="4.3" fill="#000"/>
<line x1="449.25" y1="848.30" x2="492.95" y2="848.30" stroke="#000" stroke-width="1.7" />
<line x1="575.00" y1="816.50" x2="575.00" y2="873.00" stroke="#888" stroke-width="1.2" />
<line x1="563.15" y1="816.50" x2="586.85" y2="816.50" stroke="#888" stroke-width="1.3" />
<line x1="563.15" y1="873.00" x2="586.85" y2="873.00" stroke="#888" stroke-width="1.3" />
<use href="#om" x="561.50" y="809.70"/>
<use href="#om" x="575.00" y="809.70"/>
<use href="#om" x="588.10" y="809.70"/>
<use href="#om" x="568.20" y="824.30"/>
<use href="#om" x="581.50" y="824.30"/>
<use href="#om" x="568.20" y="838.70"/>
<use href="#om" x="581.50" y="838.70"/>
<use href="#om" x="556.90" y="853.40"/>
<use href="#om" x="568.70" y="853.40"/>
<use href="#om" x="581.00" y="853.40"/>
<use href="#om" x="592.80" y="853.40"/>
<use href="#om" x="568.20" y="882.40"/>
<use href="#om" x="581.50" y="882.40"/>
<use href="#om" x="575.00" y="896.80"/>
<line x1="551.05" y1="845.00" x2="598.75" y2="845.00" stroke="#000" stroke-width="1.7" />
<line x1="647.10" y1="795.20" x2="647.10" y2="851.20" stroke="#888" stroke-width="1.2" />
<line x1="635.10" y1="795.20" x2="659.10" y2="795.20" stroke="#888" stroke-width="1.3" />
<line x1="635.10" y1="851.20" x2="659.10" y2="851.20" stroke="#888" stroke-width="1.3" />
<circle cx="640.30" cy="795.20" r="4.4" fill="#000"/>
<circle cx="653.50" cy="795.20" r="4.4" fill="#000"/>
<circle cx="633.70" cy="809.70" r="4.4" fill="#000"/>
<circle cx="647.10" cy="809.70" r="4.4" fill="#000"/>
<circle cx="660.20" cy="809.70" r="4.4" fill="#000"/>
<circle cx="629.10" cy="824.30" r="4.4" fill="#000"/>
<circle cx="641.00" cy="824.30" r="4.4" fill="#000"/>
<circle cx="652.80" cy="824.30" r="4.4" fill="#000"/>
<circle cx="665.00" cy="824.30" r="4.4" fill="#000"/>
<circle cx="647.10" cy="839.00" r="4.4" fill="#000"/>
<circle cx="647.10" cy="896.10" r="4.4" fill="#000"/>
<line x1="623.15" y1="823.10" x2="671.05" y2="823.10" stroke="#000" stroke-width="1.7" />
<line x1="576.40" y1="767.00" x2="647.00" y2="767.00" stroke="#000" stroke-width="2.2" />
<polygon points="610.80,757.60 611.48,759.27 613.27,759.40 611.89,760.56 612.33,762.30 610.80,761.35 609.27,762.30 609.71,760.56 608.33,759.40 610.12,759.27" fill="#000"/>
<path d="M431.1,798 L435,790.6 L438.9,798 Z" fill="#000"/>
<line x1="435.00" y1="797.00" x2="435.00" y2="805.60" stroke="#000" stroke-width="2.1" />
<rect x="434" y="812.2" width="2" height="2" fill="#000"/>
<rect x="434" y="820.6" width="2" height="2" fill="#000"/>
<path d="M435,829.3 L435,844.8 L426.9,844.8" fill="none" stroke="#000" stroke-width="2.1"/>
<path d="M443.7,851.2 L435,851.2 L435,866.8" fill="none" stroke="#000" stroke-width="2.1"/>
<rect x="434" y="874.2" width="2" height="2" fill="#000"/>
<rect x="434" y="882.2" width="2" height="2" fill="#000"/>
<line x1="435.00" y1="890.50" x2="435.00" y2="896.00" stroke="#000" stroke-width="2.1" />
<path d="M431.1,895 L435,902.4 L438.9,895 Z" fill="#000"/>
<path d="M500.3,798 L504.2,790.6 L508.09999999999997,798 Z" fill="#000"/>
<line x1="504.20" y1="797.00" x2="504.20" y2="805.60" stroke="#000" stroke-width="2.1" />
<rect x="503.2" y="812.2" width="2" height="2" fill="#000"/>
<rect x="503.2" y="820.6" width="2" height="2" fill="#000"/>
<path d="M504.2,829.3 L504.2,844.8 L495.7,844.8" fill="none" stroke="#000" stroke-width="2.1"/>
<path d="M512.3,851.2 L504.2,851.2 L504.2,866.8" fill="none" stroke="#000" stroke-width="2.1"/>
<rect x="503.2" y="874.2" width="2" height="2" fill="#000"/>
<rect x="503.2" y="882.2" width="2" height="2" fill="#000"/>
<line x1="504.20" y1="890.50" x2="504.20" y2="896.00" stroke="#000" stroke-width="2.1" />
<path d="M500.3,895 L504.2,902.4 L508.09999999999997,895 Z" fill="#000"/>
<text x="499.60" y="840.20" font-size="8.4" textLength="56.50" lengthAdjust="spacingAndGlyphs" transform="rotate(-90 499.60 840.20)" >above average</text>
<text x="513.90" y="912.60" font-size="8.4" textLength="56.30" lengthAdjust="spacingAndGlyphs" transform="rotate(-90 513.90 912.60)" >below average</text>
</svg></body></html>
